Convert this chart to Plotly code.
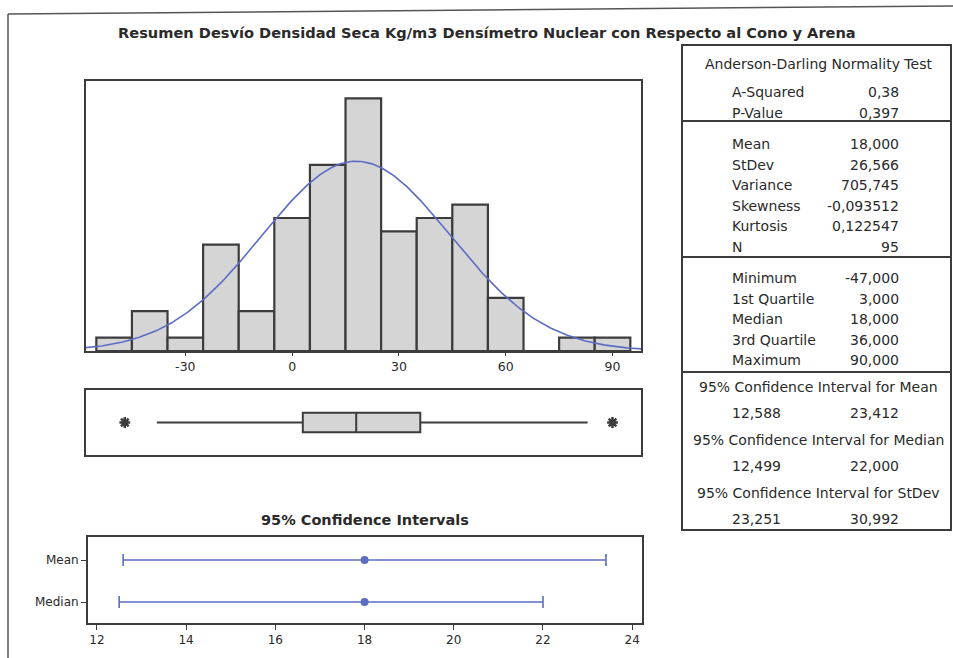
import numpy as np
import plotly.graph_objects as go

# histogram (bin centres, bin width 10) and counts
bin_centers = [-50, -40, -30, -20, -10, 0, 10, 20, 30, 40, 50, 60, 70, 80, 90]
counts = [1, 3, 1, 8, 3, 10, 14, 19, 9, 10, 11, 4, 0, 1, 1]
hist_ticks = [-30, 0, 30, 60, 90]
hist_ticktext = ["-30", "0", "30", "60", "90"]

mean_val = 18.0
stdev_val = 26.566
n_obs = 95

# boxplot summary
q1 = 3.0
median_val = 18.0
q3 = 36.0
whisker_lo = -38.0
whisker_hi = 83.0
outliers = [-47.0, 90.0]

# 95% confidence intervals
ci_names = ["Mean", "Median"]
ci_center = [18.0, 18.0]
ci_low = [12.588, 12.499]
ci_high = [23.412, 22.000]
ci_ticks = [12, 14, 16, 18, 20, 22, 24]

# stats panel
ad_labels = ["A-Squared", "P-Value"]
ad_values = ["0,38", "0,397"]
moment_labels = ["Mean", "StDev", "Variance", "Skewness", "Kurtosis", "N"]
moment_values = ["18,000", "26,566", "705,745", "-0,093512", "0,122547", "95"]
quart_labels = ["Minimum", "1st Quartile", "Median", "3rd Quartile", "Maximum"]
quart_values = ["-47,000", "3,000", "18,000", "36,000", "90,000"]
ci_headers = ["95% Confidence Interval for Mean",
              "95% Confidence Interval for Median",
              "95% Confidence Interval for StDev"]
ci_table = [("12,588", "23,412"), ("12,499", "22,000"), ("23,251", "30,992")]

W, H = 953, 658
FONT = "DejaVu Sans"
DARK = "#3c3c3c"
BLUE = "#5b6cc4"
GRAY = "#d5d5d5"


def px(x):
    return x / W


def py(y):
    return 1 - y / H


fig = go.Figure()

# histogram
fig.add_trace(go.Bar(x=bin_centers, y=counts, width=10,
                     marker=dict(color=GRAY, line=dict(color=DARK, width=2.2)),
                     xaxis="x", yaxis="y", hoverinfo="skip"))

# fitted normal curve from the reported mean / stdev
xs = np.linspace(-60, 100, 400)
ys = n_obs * 10 * np.exp(-0.5 * ((xs - mean_val) / stdev_val) ** 2) / (stdev_val * np.sqrt(2 * np.pi))
fig.add_trace(go.Scatter(x=xs, y=ys, mode="lines", line=dict(color=BLUE, width=1.6),
                         xaxis="x", yaxis="y", hoverinfo="skip"))

# boxplot
fig.add_trace(go.Box(y=[0], q1=[q1], median=[median_val], q3=[q3],
                     lowerfence=[whisker_lo], upperfence=[whisker_hi],
                     orientation="h", boxpoints=False, width=0.6, whiskerwidth=0,
                     fillcolor=GRAY, line=dict(color=DARK, width=2),
                     xaxis="x2", yaxis="y2"))
fig.add_trace(go.Scatter(x=outliers, y=[0] * len(outliers), mode="markers",
                         marker=dict(symbol="asterisk-open", size=9, color=DARK,
                                     line=dict(color=DARK, width=2.5)),
                         xaxis="x2", yaxis="y2"))

# confidence intervals
ci_pos = [1, 0]
fig.add_trace(go.Scatter(
    x=ci_center, y=ci_pos, mode="markers",
    marker=dict(color=BLUE, size=8),
    error_x=dict(type="data", symmetric=False,
                 array=[h - c for h, c in zip(ci_high, ci_center)],
                 arrayminus=[c - l for l, c in zip(ci_low, ci_center)],
                 color=BLUE, thickness=1.6, width=6),
    xaxis="x3", yaxis="y3"))

frame = dict(showline=True, mirror=True, linecolor=DARK, linewidth=2,
             showgrid=False, zeroline=False)

fig.update_layout(
    width=W, height=H, margin=dict(l=0, r=0, t=0, b=0),
    paper_bgcolor="white", plot_bgcolor="white", showlegend=False,
    font=dict(family=FONT, color="#2a2a2a"),
    xaxis=dict(domain=[px(86), px(641)], range=[-57.9, 98], tickvals=hist_ticks,
               ticktext=hist_ticktext, ticks="outside", ticklen=3, tickcolor=DARK,
               tickfont=dict(size=12.5), anchor="y", **frame),
    yaxis=dict(domain=[py(351), py(81)], range=[0, 20.3], showticklabels=False,
               anchor="x", **frame),
    xaxis2=dict(domain=[px(86), px(641)], range=[-57.9, 98], showticklabels=False,
                anchor="y2", **frame),
    yaxis2=dict(domain=[py(455), py(390)], range=[-1, 1], showticklabels=False,
                anchor="x2", **frame),
    xaxis3=dict(domain=[px(88), px(642)], range=[11.8, 24.22], tickvals=ci_ticks,
                ticks="outside", ticklen=5, tickcolor=DARK,
                tickfont=dict(size=12), anchor="y3", **frame),
    yaxis3=dict(domain=[py(623), py(537)], range=[-0.5, 1.55], tickvals=ci_pos,
                ticktext=ci_names, ticks="outside", ticklen=5, tickcolor=DARK,
                tickfont=dict(size=12), anchor="x3", **frame),
)

shapes = []
# scanned page border
shapes.append(dict(type="line", xref="paper", yref="paper",
                   x0=px(8), y0=py(14), x1=px(953), y1=py(6),
                   line=dict(color="#555", width=1.5)))
shapes.append(dict(type="line", xref="paper", yref="paper",
                   x0=px(8), y0=py(14), x1=px(8), y1=py(658),
                   line=dict(color="#555", width=1.5)))
# stats panel frame and separators
shapes.append(dict(type="rect", xref="paper", yref="paper",
                   x0=px(682), y0=py(530), x1=px(951), y1=py(45),
                   line=dict(color=DARK, width=2)))
for sy in [121, 257, 372]:
    shapes.append(dict(type="line", xref="paper", yref="paper",
                       x0=px(682), y0=py(sy), x1=px(951), y1=py(sy),
                       line=dict(color=DARK, width=2)))

ann = []


def text(x, y, s, anchor="left", size=14, bold=False):
    ann.append(dict(x=px(x), y=py(y), xref="paper", yref="paper",
                    text="<b>%s</b>" % s if bold else s, showarrow=False,
                    xanchor=anchor, yanchor="middle",
                    font=dict(family=FONT, size=size, color="#2a2a2a")))


text(487, 32, "Resumen Desvío Densidad Seca Kg/m3 Densímetro Nuclear con Respecto al Cono y Arena",
     anchor="center", size=14.6, bold=True)
text(365, 520, "95% Confidence Intervals", anchor="center", size=14.5, bold=True)

text(818, 64, "Anderson-Darling Normality Test", anchor="center")
rows = [(ad_labels, ad_values, 92), (moment_labels, moment_values, 144),
        (quart_labels, quart_values, 278)]
for labels, values, y0 in rows:
    for i, (lab, val) in enumerate(zip(labels, values)):
        text(730, y0 + i * 20.6, lab)
        text(901, y0 + i * 20.6, val, anchor="right")

for i, (hdr, (lo, hi)) in enumerate(zip(ci_headers, ci_table)):
    yh = 387 + i * 53
    text(818, yh, hdr, anchor="center")
    text(730, yh + 26, lo)
    text(901, yh + 26, hi, anchor="right")

fig.update_layout(shapes=shapes, annotations=ann)

fig.write_html("out.html", config={"displayModeBar": False},
               post_script="document.body.style.margin='0';")
